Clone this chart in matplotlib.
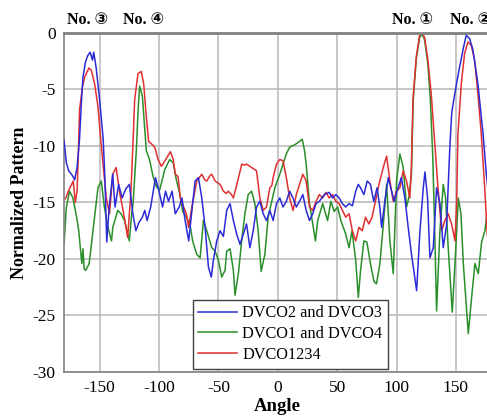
import matplotlib
matplotlib.use("Agg")
import matplotlib.pyplot as plt

# ---------------- data ----------------
blue_angle = [-180, -178, -176, -173, -171, -169, -167, -165, -164, -162, -160, -158, -156, -155, -153,
              -150, -147, -145.5, -144, -142, -140, -139, -137, -134, -131, -128, -125, -122, -119.5,
              -117, -114, -112, -110, -107, -103, -100, -97, -94.5, -92, -89, -86.3, -83, -80.7, -78,
              -75, -72, -69.6, -66.8, -64, -61.2, -58.4, -56, -54.2, -51.4, -48.6, -45.8, -43, -40.2,
              -37.4, -34.6, -31.8, -29, -26.3, -23.5, -20.7, -17.9, -15.1, -12.3, -9.5, -6.7, -3.9,
              -1.1, 1.7, 4.4, 7.2, 10, 12.8, 15.6, 18.3, 21.1, 23.9, 26.7, 29.4, 32.2, 35, 39.2, 43.3,
              46.1, 48.9, 51.7, 54.4, 57.2, 60, 62.8, 65.6, 67.8, 69.7, 72.5, 75.3, 78, 80.8, 83.6, 86,
              87.4, 90, 93, 95.8, 98, 101, 104, 107, 109.8, 112.6, 116.9, 119.7, 122.5, 123.9, 126.1,
              128.1, 130.9, 133.7, 136.5, 139.3, 142.1, 144.9, 146.5, 149, 151, 153.1, 156.5, 158.7,
              161.5, 164.3, 168.5, 172.8, 175.6, 178, 180]
blue_db = [-9.5, -11.5, -12.2, -12.6, -13.0, -11.9, -9.5, -5.5, -3.9, -2.6, -2.0, -1.7, -2.4, -1.7, -3.0,
           -5.9, -9.4, -13.0, -18.5, -15.5, -13.5, -12.5, -15.4, -13.4, -14.6, -13.8, -13.4, -16.0, -17.5,
           -16.8, -16.3, -15.7, -16.6, -15.4, -12.8, -14.0, -15.4, -14.0, -14.9, -14.0, -16.0, -15.4, -14.6,
           -16.6, -18.4, -15.4, -13.1, -12.8, -14.6, -17.2, -20.7, -21.6, -20.1, -18.4, -17.5, -18.0, -15.7,
           -15.1, -16.6, -17.8, -18.7, -17.8, -16.9, -19.0, -17.5, -15.4, -14.9, -16.0, -16.6, -15.7, -16.6,
           -15.1, -14.6, -15.4, -14.9, -14.0, -14.6, -15.4, -14.9, -14.3, -15.7, -16.6, -16.0, -15.1, -14.9,
           -14.3, -14.1, -14.6, -14.3, -14.6, -15.1, -15.4, -15.1, -15.3, -14.0, -13.4, -13.7, -14.3, -13.1,
           -13.4, -14.9, -13.7, -15.5, -17.2, -15.0, -12.8, -14.0, -14.9, -13.8, -12.8, -14.6, -17.2, -19.6,
           -22.8, -17.5, -13.7, -12.3, -14.6, -19.9, -19.0, -13.7, -15.1, -19.0, -17.0, -10.0, -7.0, -5.4,
           -4.2, -3.0, -1.2, -0.2, -0.5, -1.5, -4.5, -8.9, -12.5, -15.0, -14.5]

green_angle = [-180, -179, -178, -175.3, -172.5, -169, -167.6, -165, -164, -163, -161.6, -158.8, -155.6,
               -151.4, -148.6, -146, -143, -140, -138.9, -134.7, -132, -129, -126.4, -125, -123, -121.9,
               -119.1, -117.5, -116.3, -114, -110.7, -108, -105, -102.2, -99.4, -95.2, -91, -88, -85.4,
               -82.6, -80, -77, -74, -71.7, -68.2, -65.4, -62.6, -59.8, -55.6, -52.8, -50, -47.2, -44.4,
               -43, -40.2, -37.4, -36, -33.2, -30.4, -27.7, -24.9, -22.1, -19.3, -16.5, -14, -10.9, -8.1,
               -5.3, -2.5, 1.7, 4.4, 7.2, 10, 14.2, 18.3, 20.6, 22.5, 23.9, 26.7, 29.4, 31.7, 33.6, 37.8,
               41.9, 44.7, 47.5, 50.3, 53.1, 57.2, 60, 62.5, 65.6, 67.8, 69.7, 72.5, 75, 78, 81, 83.1, 86,
               88.8, 91.6, 94.4, 97.2, 100, 102.8, 105.6, 108.4, 110.5, 112.5, 114, 116.6, 119.4, 121.6,
               123.6, 126.4, 128.5, 130.5, 132, 133.7, 136.5, 139.3, 141.3, 143.5, 146.9, 149.2, 152,
               154.2, 156.2, 160.4, 163.2, 166, 168.8, 171.6, 174.4, 176.1, 178, 180]
green_db = [-18.7, -17.0, -15.4, -14.0, -14.6, -16.5, -17.5, -20.4, -19.1, -20.9, -21.0, -20.4, -17.5,
            -13.7, -13.1, -15.4, -17.2, -18.4, -17.2, -15.7, -16.0, -16.6, -17.8, -18.4, -16.0, -15.2,
            -10.4, -6.6, -4.7, -5.6, -10.4, -11.2, -12.7, -13.6, -13.9, -12.1, -11.2, -11.5, -13.0,
            -14.2, -15.8, -16.3, -16.9, -18.4, -19.6, -19.9, -16.6, -17.5, -19.0, -19.3, -20.1, -21.6,
            -21.0, -19.3, -19.1, -21.0, -23.2, -21.3, -18.4, -16.0, -14.3, -14.0, -15.1, -17.5, -21.1,
            -19.6, -16.3, -15.0, -13.7, -12.5, -11.6, -10.7, -10.1, -9.9, -9.6, -9.4, -10.4, -11.6,
            -15.1, -16.9, -18.4, -16.6, -15.1, -16.6, -14.9, -15.8, -15.4, -16.6, -17.8, -19.0, -17.5,
            -20.1, -23.4, -21.0, -18.4, -18.5, -20.4, -22.0, -22.2, -20.4, -17.0, -13.4, -18.4, -21.3,
            -13.1, -10.7, -11.9, -15.4, -14.5, -12.5, -6.0, -2.3, -0.4, -0.1, -0.6, -2.8, -6.0, -11.0,
            -17.0, -24.6, -17.5, -13.4, -14.6, -19.0, -24.7, -20.4, -14.6, -16.0, -20.4, -26.6, -23.4,
            -20.4, -21.3, -18.5, -17.5, -16.0, -17.0, -18.5]

red_angle = [-180, -178, -176.4, -174, -172.2, -170.5, -169, -168, -166.9, -164.5, -162.6, -159, -157,
             -154.2, -151.4, -149, -147.2, -144.4, -141.7, -138.9, -136.1, -133.3, -129.2, -126.4,
             -123.6, -122, -120.5, -117.7, -114.9, -112.9, -110.7, -108.7, -106.5, -103.6, -100.8, -98,
             -93.8, -90.4, -88, -86.3, -84, -82.1, -79.3, -77, -75.1, -72.3, -68.2, -64, -61.5, -59.8,
             -57, -55.6, -52.8, -48.6, -45.8, -43.3, -41.6, -39, -37.4, -34, -30.3, -28, -26.3, -22.1,
             -17.9, -15.1, -12.3, -9.5, -6.7, -5, -3.9, -1.1, 1.7, 4.4, 7.2, 10, 12.8, 15.6, 18.3, 21.1,
             23.9, 26.7, 29.4, 32.2, 35, 37.8, 40.6, 43.3, 46.1, 48.9, 51.7, 54.4, 57.2, 60, 62.8, 65.6,
             68.3, 71.1, 73.9, 76.7, 79.4, 82.2, 85, 88.8, 91.6, 94.4, 97.2, 100, 102.8, 105.6, 108.4,
             111.2, 112.5, 113.8, 116.6, 119.4, 121.6, 123.6, 126.4, 129.2, 132, 134.8, 137.9, 140.7,
             143.5, 146.3, 149.2, 150.6, 151.7, 154.5, 157.3, 160.1, 162.9, 165.7, 168.5, 171.3, 174.1,
             176.5, 178.5, 180]
red_db = [-14.8, -14.5, -14.0, -13.5, -13.1, -15.0, -14.0, -11.0, -6.8, -4.8, -3.9, -3.1, -3.3, -4.5,
          -6.5, -9.5, -11.5, -14.6, -16.0, -12.5, -11.9, -14.0, -16.3, -18.1, -14.0, -10.0, -5.9, -3.6,
          -3.4, -4.5, -7.4, -9.6, -9.8, -10.1, -11.2, -11.8, -11.1, -10.5, -11.2, -12.5, -12.7, -14.6,
          -15.4, -16.0, -17.2, -15.4, -13.1, -12.5, -13.0, -13.1, -12.6, -12.5, -13.1, -13.4, -14.0,
          -14.2, -14.0, -14.3, -14.6, -13.2, -11.6, -11.7, -11.6, -11.9, -12.2, -14.6, -15.7, -15.4,
          -13.7, -13.5, -12.8, -11.6, -11.2, -11.3, -12.8, -14.6, -15.7, -14.3, -13.4, -12.5, -13.1,
          -15.4, -15.7, -14.9, -14.3, -14.6, -14.1, -14.6, -14.3, -14.9, -15.1, -15.7, -16.3, -16.0,
          -17.5, -18.4, -17.2, -17.5, -16.3, -16.9, -16.3, -14.9, -13.5, -11.9, -10.9, -13.1, -14.9,
          -14.0, -13.7, -12.2, -13.1, -14.6, -11.8, -5.9, -2.1, -0.2, 0.0, -0.4, -2.4, -5.4, -9.5,
          -13.6, -17.5, -16.6, -16.0, -16.9, -18.4, -15.0, -8.9, -4.5, -1.8, -0.8, -1.1, -2.4, -5.4,
          -8.9, -13.5, -18.0, -19.0, -18.0]

series_labels = ["DVCO2 and DVCO3", "DVCO1 and DVCO4", "DVCO1234"]
x_ticks = [-150, -100, -50, 0, 50, 100, 150]
y_ticks = [0, -5, -10, -15, -20, -25, -30]
peak_labels = ["No. \u2462", "No. \u2463", "No. \u2460", "No. \u2461"]
peak_angles = [-160.5, -112.8, 113.2, 162.5]

# ---------------- figure ----------------
plt.rcParams["font.family"] = ["Liberation Serif", "DejaVu Serif"]
plt.rcParams["axes.unicode_minus"] = False

fig = plt.figure(figsize=(4.87, 4.16), dpi=100)
ax = fig.add_axes([0.1314, 0.1058, 0.878, 0.8149])

ax.plot(blue_angle, blue_db, color="#2b2bd8", lw=1.1, label=series_labels[0], zorder=3)
ax.plot(green_angle, green_db, color="#2a8f2a", lw=1.1, label=series_labels[1], zorder=2)
ax.plot(red_angle, red_db, color="#e03030", lw=1.1, label=series_labels[2], zorder=2.5)

ax.set_xlim(-180, 180)
ax.set_ylim(-30, 0)
ax.set_xticks(x_ticks)
ax.set_yticks(y_ticks)
ax.grid(True, color="#b8b8b8", lw=1.1)
ax.set_axisbelow(True)
ax.tick_params(length=0, labelsize=12.5, pad=6)
for side in ["left", "bottom", "top"]:
    ax.spines[side].set_color("#808080")
    ax.spines[side].set_linewidth(1.2)
ax.spines["top"].set_linewidth(2.0)
ax.spines["right"].set_visible(False)

ax.set_xlabel("Angle", fontsize=13.5, fontweight="bold", labelpad=1)
ax.set_ylabel("Normalized Pattern", fontsize=13, fontweight="bold", labelpad=3)

for lab, ang in zip(peak_labels, peak_angles):
    ax.text(ang, 0.45, lab, ha="center", va="bottom", fontsize=11.5, fontweight="bold",
            family=["Liberation Serif", "DejaVu Sans"], clip_on=False)

leg = ax.legend(loc="lower left", bbox_to_anchor=(0.293, 0.0), fontsize=11.7,
                handlelength=2.4, labelspacing=0.3, borderpad=0.35, handletextpad=0.3,
                frameon=True, fancybox=False, framealpha=1.0, edgecolor="#404040",
                borderaxespad=0.2)
leg.get_frame().set_linewidth(1.0)

fig.savefig("out.png", dpi=100, facecolor="white")
